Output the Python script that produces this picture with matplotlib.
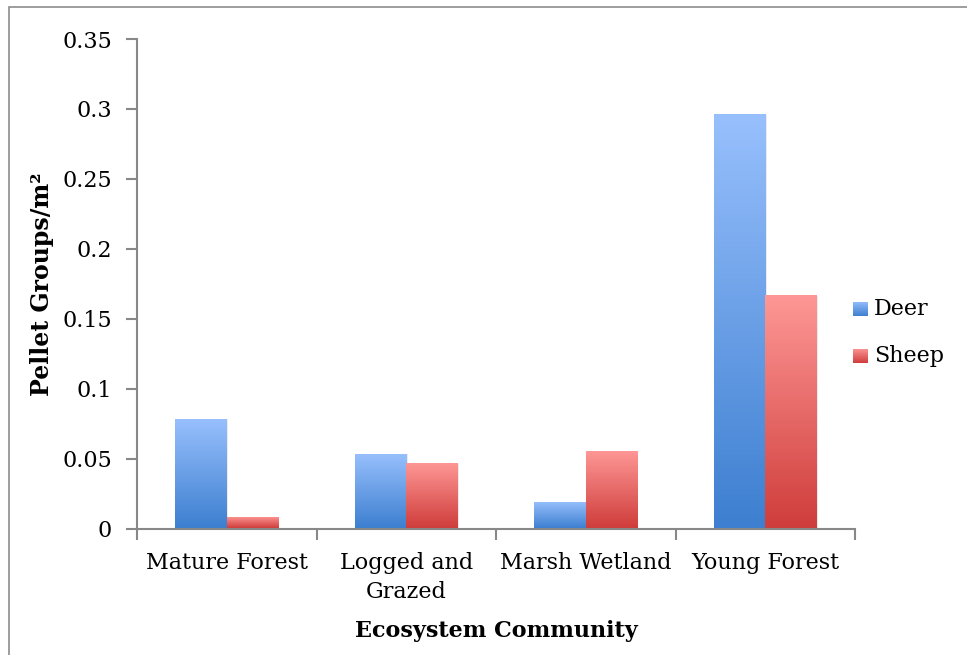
import numpy as np
import matplotlib
matplotlib.use("Agg")
import matplotlib.pyplot as plt
from matplotlib.colors import LinearSegmentedColormap
from matplotlib.patches import Rectangle

categories = ["Mature Forest", "Logged and\nGrazed", "Marsh Wetland", "Young Forest"]
deer = [0.0786, 0.0536, 0.0193, 0.2964]
sheep = [0.0079, 0.0470, 0.0557, 0.1670]
series_names = ["Deer", "Sheep"]
yticks = [0, 0.05, 0.1, 0.15, 0.2, 0.25, 0.3, 0.35]
ytick_labels = ["0", "0.05", "0.1", "0.15", "0.2", "0.25", "0.3", "0.35"]

plt.rcParams['font.family'] = ['DejaVu Serif']
FS = 16

blue_cmap = LinearSegmentedColormap.from_list("deer", ["#3d7fd0", "#98c0fd"])
red_cmap = LinearSegmentedColormap.from_list("sheep", ["#cf3d3b", "#fe9896"])

W, H = 967, 655
fig = plt.figure(figsize=(W / 100, H / 100), dpi=100)
ax = fig.add_axes([137 / W, (H - 528.5) / H, (855 - 137) / W, (528.5 - 39) / H])

# outer chart frame
fig.patches.append(Rectangle((9 / W, -0.01), 1.0, (H - 7) / H + 0.01, transform=fig.transFigure,
                             fill=False, edgecolor="#8c8c8c", linewidth=1.2))

x = np.arange(len(categories))
bw = 1 / 3.5
grad = np.linspace(0, 1, 256).reshape(-1, 1)

for vals, cmap, off, name in [(deer, blue_cmap, -bw / 2, "Deer"), (sheep, red_cmap, bw / 2, "Sheep")]:
    bars = ax.bar(x + off, vals, bw, color="none", edgecolor="none", label=name)
    for b in bars:
        x0, y0 = b.get_x(), b.get_y()
        w, h = b.get_width(), b.get_height()
        # soft drop shadow
        ax.add_patch(Rectangle((x0 + 0.008, y0), w, h - 0.0006, facecolor="#000000", alpha=0.08,
                               edgecolor="none", zorder=1))
        im = ax.imshow(grad, cmap=cmap, extent=[x0, x0 + w, y0, y0 + h], origin="lower",
                       aspect="auto", zorder=2)
        im.set_clip_path(b)

ax.set_xlim(-0.5, len(categories) - 0.5)
ax.set_ylim(0, 0.35)

for s in ["top", "right"]:
    ax.spines[s].set_visible(False)
for s in ["left", "bottom"]:
    ax.spines[s].set_color("#888888")
    ax.spines[s].set_linewidth(1.5)

ax.set_yticks(yticks)
ax.set_yticklabels(ytick_labels, fontsize=FS)
ax.tick_params(axis="y", length=8, width=1.5, color="#888888", pad=10)

ax.set_xticks(x)
ax.set_xticklabels(categories, fontsize=FS, linespacing=1.4)
ax.tick_params(axis="x", length=0, pad=17)
ax.set_xticks(np.arange(len(categories) + 1) - 0.5, minor=True)
ax.tick_params(axis="x", which="minor", length=8, width=1.5, color="#888888")

ax.set_ylabel("Pellet Groups/m²", fontsize=17, fontweight="bold", labelpad=6)
ax.set_xlabel("Ecosystem Community", fontsize=FS, fontweight="bold", labelpad=12)

# legend drawn as gradient swatches
for i, (name, cmap) in enumerate(zip(series_names, [blue_cmap, red_cmap])):
    yc = 309 + i * 47
    sax = fig.add_axes([853 / W, (H - yc - 7.5) / H, 15 / W, 15 / H])
    sax.imshow(grad, cmap=cmap, origin="lower", aspect="auto")
    sax.axis("off")
    fig.text(874 / W, (H - yc) / H, name, fontsize=FS, va="center", ha="left")

fig.savefig("out.png", dpi=100)
